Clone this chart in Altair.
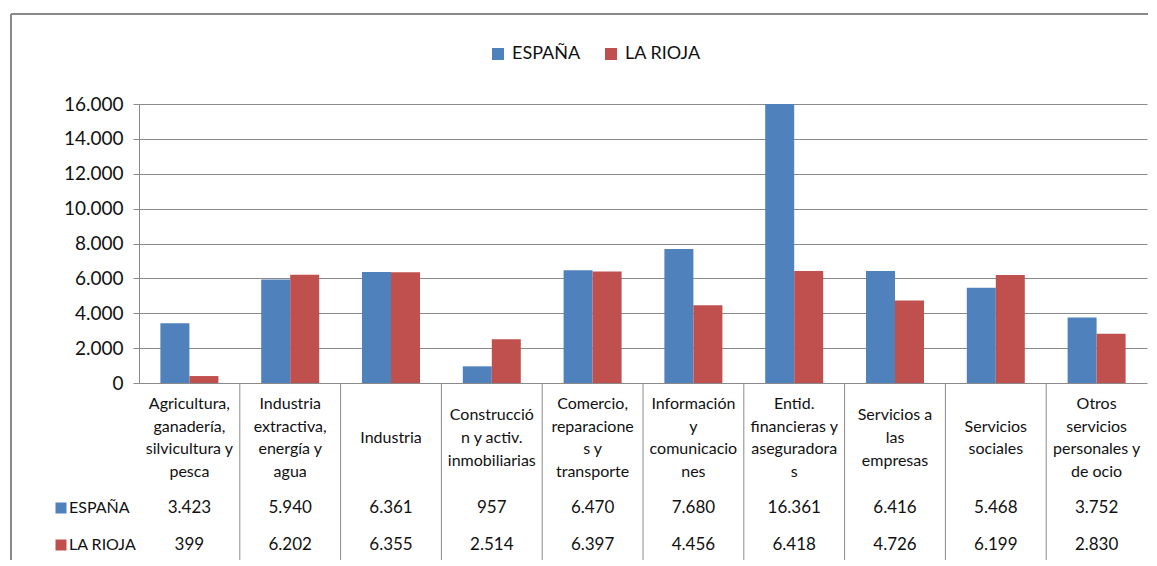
import altair as alt
import pandas as pd

categories = [
    "Agricultura,\nganadería,\nsilvicultura y\npesca",
    "Industria\nextractiva,\nenergía y\nagua",
    "Industria",
    "Construcció\nn y activ.\ninmobiliarias",
    "Comercio,\nreparacione\ns y\ntransporte",
    "Información\ny\ncomunicacio\nnes",
    "Entid.\nfinancieras y\naseguradora\ns",
    "Servicios a\nlas\nempresas",
    "Servicios\nsociales",
    "Otros\nservicios\npersonales y\nde ocio",
]
series = ["ESPAÑA", "LA RIOJA"]
espana = [3423, 5940, 6361, 957, 6470, 7680, 16361, 6416, 5468, 3752]
rioja = [399, 6202, 6355, 2514, 6397, 4456, 6418, 4726, 6199, 2830]
colors = ["#4F81BD", "#C0504D"]
y_ticks = [0, 2000, 4000, 6000, 8000, 10000, 12000, 14000, 16000]

rows = []
for c, e, r in zip(categories, espana, rioja):
    rows.append({"cat": c, "series": series[0], "value": e})
    rows.append({"cat": c, "series": series[1], "value": r})
df = pd.DataFrame(rows)
cat_df = pd.DataFrame({"cat": categories})
series_df = pd.DataFrame({"series": series})
one = pd.DataFrame({"a": [0]})

W, H = 1008, 279
FONT = "Lato"
GREY = "#8a8a8a"
PI = 0.4246
STEP = W / 10.0
LH = 22.6

xscale = alt.Scale(domain=categories, paddingInner=PI, paddingOuter=PI / 2)
color_scale = alt.Scale(domain=series, range=colors)

bars = alt.Chart(df).mark_bar().encode(
    x=alt.X("cat:N", scale=xscale, axis=None, sort=categories),
    xOffset=alt.XOffset("series:N", scale=alt.Scale(domain=series, paddingInner=0, paddingOuter=0)),
    y=alt.Y(
        "value:Q",
        scale=alt.Scale(domain=[0, 16000], clamp=True, nice=False),
        axis=alt.Axis(
            values=y_ticks, title=None,
            labelExpr="replace(datum.label, ',', '.')",
            labelFont=FONT, labelFontSize=19, labelColor="#111",
            labelPadding=10, tickSize=6, tickColor=GREY, domainColor=GREY,
            gridColor=GREY, gridWidth=1, grid=True,
        ),
    ),
    color=alt.Color(
        "series:N", scale=color_scale,
        legend=alt.Legend(
            orient="none", legendX=350, legendY=-59, direction="horizontal",
            title=None, symbolType="square", symbolSize=144, symbolStrokeWidth=0,
            labelFont=FONT, labelFontSize=18, labelColor="#111",
            columnPadding=21, labelOffset=5,
        ),
    ),
)

dividers = alt.Chart(cat_df).transform_filter(
    alt.FieldOneOfPredicate(field="cat", oneOf=categories[1:])
).mark_rule(color=GREY, strokeWidth=1, xOffset=-PI * STEP / 2).encode(
    x=alt.X("cat:N", scale=xscale, sort=categories, bandPosition=0),
    y=alt.value(H),
    y2=alt.value(H + 177),
)

cat_text = alt.Chart(cat_df).transform_calculate(
    ypix=f"334 - (length(split(datum.cat, '\\n')) - 1) * {LH / 2}"
).mark_text(
    lineBreak="\n", font=FONT, fontSize=16, baseline="middle", align="center",
    lineHeight=LH, color="#111",
).encode(
    x=alt.X("cat:N", scale=xscale, sort=categories),
    y=alt.Y("ypix:Q", scale=None),
    text="cat:N",
)

row_y = [404, 441]
layers = [bars, dividers, cat_text]
for s, ry in zip(series, row_y):
    vals = alt.Chart(df).transform_filter(alt.datum.series == s).transform_calculate(
        lbl="replace(format(datum.value, ','), ',', '.')"
    ).mark_text(font=FONT, fontSize=17, baseline="middle", align="center", color="#111").encode(
        x=alt.X("cat:N", scale=xscale, sort=categories),
        y=alt.value(ry),
        text="lbl:N",
    )
    key_sq = alt.Chart(series_df).transform_filter(alt.datum.series == s).mark_square(
        size=121, opacity=1
    ).encode(
        x=alt.value(-78), y=alt.value(ry),
        color=alt.Color("series:N", scale=color_scale, legend=None),
    )
    key_tx = alt.Chart(series_df).transform_filter(alt.datum.series == s).mark_text(
        font=FONT, fontSize=16, baseline="middle", align="left", color="#111"
    ).encode(x=alt.value(-70), y=alt.value(ry), text="series:N")
    layers += [vals, key_sq, key_tx]

frame_top = alt.Chart(one).mark_rule(color=GREY, strokeWidth=2).encode(
    x=alt.value(-128), x2=alt.value(1009), y=alt.value(-90)
)
frame_left = alt.Chart(one).mark_rule(color=GREY, strokeWidth=2).encode(
    x=alt.value(-128), y=alt.value(-90), y2=alt.value(456)
)

chart = alt.layer(frame_top, frame_left, *layers).properties(
    width=W, height=H,
    padding={"left": 2, "top": 5, "right": 0, "bottom": 0},
    background="white",
).configure_view(stroke=None)

chart.save("out.html", embed_options={"renderer": "svg", "actions": False})
